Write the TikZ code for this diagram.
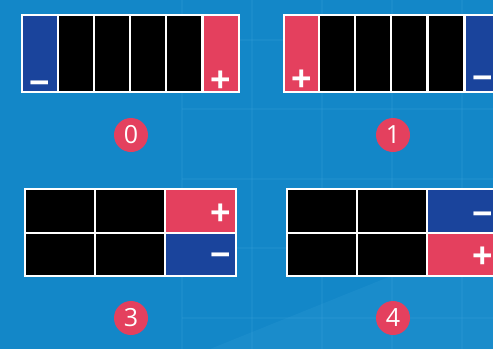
\documentclass[tikz,border=0pt]{standalone}
\usepackage{fontspec}
\setmainfont{Open Sans}
\newfontfamily\signfont{Liberation Sans}
\definecolor{bgblue}{HTML}{1387C8}
\definecolor{gridblue}{HTML}{3FA3DC}
\definecolor{cellblue}{HTML}{1A449C}
\definecolor{cellred}{HTML}{E4405E}
\definecolor{badgered}{HTML}{E4405E}
\tikzset{
  cellbox/.style={inner sep=0pt, outer sep=0pt, anchor=north west, draw=none},
  panelframe/.style={fill=white, draw=none},
  signtext/.style={inner sep=0pt, text=white, font=\signfont\bfseries\fontsize{35}{35}\selectfont},
  badge/.style={circle, fill=badgered, minimum size=34pt, inner sep=0pt, text=white, font=\fontsize{25}{25}\selectfont},
}
\begin{document}
\begin{tikzpicture}[x=1pt,y=-1pt]
\useasboundingbox (0,0) rectangle (493,349);
\fill[bgblue] (0,0) rectangle (493,349);
% faint background tiles
\begin{scope}[gridblue, opacity=0.18, line width=2.5pt]
  \foreach \gx in {182,252,322,392,462} { \draw (\gx,0) -- (\gx,349); }
  \foreach \gy in {40,109,179,248,318} { \draw (182,\gy) -- (493,\gy); }
\end{scope}
\fill[gridblue, opacity=0.18] (493,235) -- (493,349) -- (210,349) -- cycle;

% ---------- panel 0 ----------
\fill[panelframe] (21,14) rectangle (240,93);
\node[cellbox, fill=cellblue, minimum width=34pt, minimum height=75pt] (a1) at (23,16) {};
\node[cellbox, fill=black, minimum width=34pt, minimum height=75pt] (a2) at (59,16) {};
\node[cellbox, fill=black, minimum width=34pt, minimum height=75pt] (a3) at (95,16) {};
\node[cellbox, fill=black, minimum width=34pt, minimum height=75pt] (a4) at (131,16) {};
\node[cellbox, fill=black, minimum width=34pt, minimum height=75pt] (a5) at (167,16) {};
\node[cellbox, fill=cellred, minimum width=34pt, minimum height=75pt] (a6) at (204,16) {};
\node[signtext] (am) at (39.5,88) {−};
\node[signtext] (ap) at (221,81) {+};
\node[badge] (b0) at (131,135) {0};

% ---------- panel 1 ----------
\fill[panelframe] (283,14) rectangle (502,93);
\node[cellbox, fill=cellred, minimum width=33pt, minimum height=75pt] (c1) at (285,16) {};
\node[cellbox, fill=black, minimum width=34pt, minimum height=75pt] (c2) at (320,16) {};
\node[cellbox, fill=black, minimum width=34pt, minimum height=75pt] (c3) at (356,16) {};
\node[cellbox, fill=black, minimum width=34pt, minimum height=75pt] (c4) at (392,16) {};
\node[cellbox, fill=black, minimum width=34pt, minimum height=75pt] (c5) at (429,16) {};
\node[cellbox, fill=cellblue, minimum width=34pt, minimum height=75pt] (c6) at (466,16) {};
\node[signtext] (cp) at (302,80.5) {+};
\node[signtext] (cm) at (483,83) {−};
\node[badge] (b1) at (393,135) {1};

% ---------- panel 3 ----------
\fill[panelframe] (24,188) rectangle (237,277);
\node[cellbox, fill=black, minimum width=68pt, minimum height=41.5pt] (d1) at (26,190) {};
\node[cellbox, fill=black, minimum width=68pt, minimum height=41.5pt] (d2) at (96,190) {};
\node[cellbox, fill=cellred, minimum width=69pt, minimum height=41.5pt] (d3) at (166,190) {};
\node[cellbox, fill=black, minimum width=68pt, minimum height=41.5pt] (d4) at (26,233.5) {};
\node[cellbox, fill=black, minimum width=68pt, minimum height=41.5pt] (d5) at (96,233.5) {};
\node[cellbox, fill=cellblue, minimum width=69pt, minimum height=41.5pt] (d6) at (166,233.5) {};
\node[signtext] (dp) at (221,214.5) {+};
\node[signtext] (dm) at (221,260) {−};
\node[badge] (b3) at (131,318) {3};

% ---------- panel 4 ----------
\fill[panelframe] (286,188) rectangle (499,277);
\node[cellbox, fill=black, minimum width=68pt, minimum height=41.5pt] (e1) at (288,190) {};
\node[cellbox, fill=black, minimum width=68pt, minimum height=41.5pt] (e2) at (358,190) {};
\node[cellbox, fill=cellblue, minimum width=69pt, minimum height=41.5pt] (e3) at (428,190) {};
\node[cellbox, fill=black, minimum width=68pt, minimum height=41.5pt] (e4) at (288,233.5) {};
\node[cellbox, fill=black, minimum width=68pt, minimum height=41.5pt] (e5) at (358,233.5) {};
\node[cellbox, fill=cellred, minimum width=69pt, minimum height=41.5pt] (e6) at (428,233.5) {};
\node[signtext] (em) at (483,219) {−};
\node[signtext] (ep) at (483,257) {+};
\node[badge] (b4) at (393,318) {4};
\end{tikzpicture}
\end{document}
